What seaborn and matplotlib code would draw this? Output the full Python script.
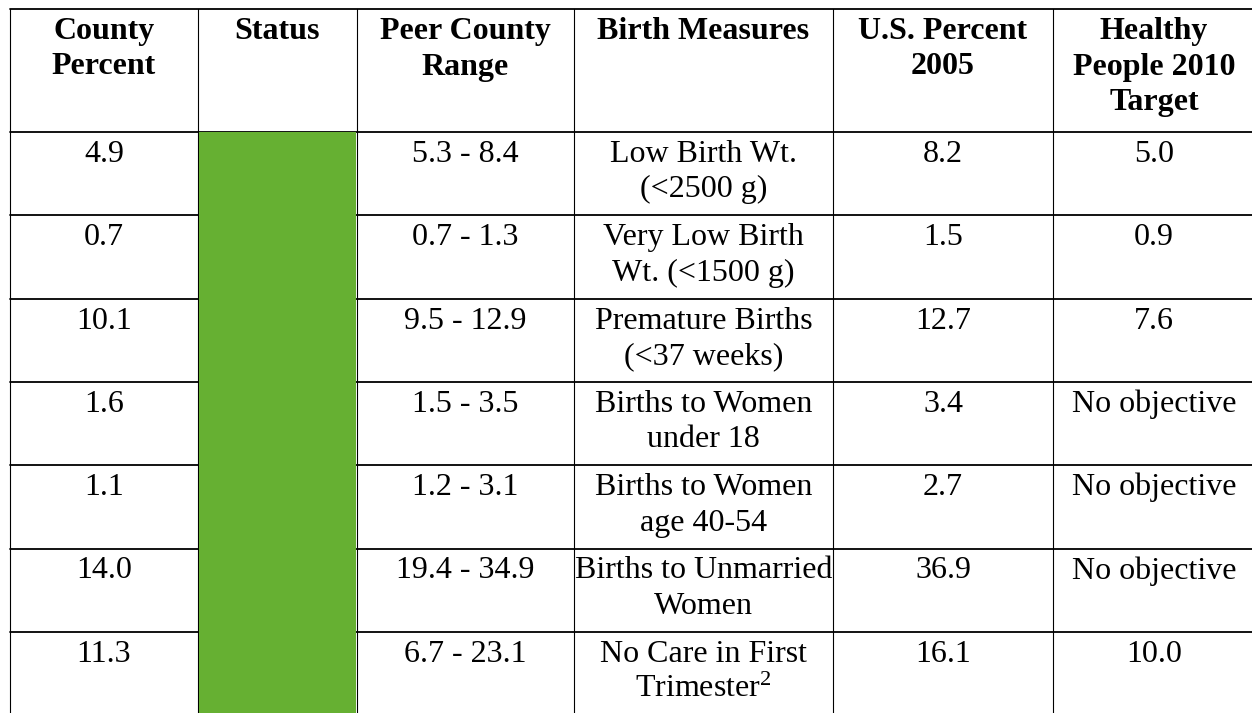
import numpy as np
import pandas as pd
import matplotlib
matplotlib.use("Agg")
import matplotlib.pyplot as plt
from matplotlib.colors import ListedColormap
import seaborn as sns

# ---- table content ----
headers = [
    ["County", "Percent"],
    ["Status"],
    ["Peer County", "Range"],
    ["Birth Measures"],
    ["U.S. Percent", "2005"],
    ["Healthy", "People 2010", "Target"],
]
county_pct = ["4.9", "0.7", "10.1", "1.6", "1.1", "14.0", "11.3"]
status = ["better", "better", "better", "better", "better", "better", "better"]
peer_range = ["5.3 - 8.4", "0.7 - 1.3", "9.5 - 12.9", "1.5 - 3.5",
              "1.2 - 3.1", "19.4 - 34.9", "6.7 - 23.1"]
measures = [
    ["Low Birth Wt.", "(<2500 g)"],
    ["Very Low Birth", "Wt. (<1500 g)"],
    ["Premature Births", "(<37 weeks)"],
    ["Births to Women", "under 18"],
    ["Births to Women", "age 40-54"],
    ["Births to Unmarried", "Women"],
    ["No Care in First", r"Trimester$^{2}$"],
]
us_pct = ["8.2", "1.5", "12.7", "3.4", "2.7", "36.9", "16.1"]
hp2010 = ["5.0", "0.9", "7.6", "No objective", "No objective",
          "No objective", "10.0"]

# ---- layout (pixels) ----
W, H = 1252, 713
col_edges = [10, 198, 357, 574, 833, 1053, 1255]
top = 9
head_bottom = 132
row_h = 83.3
n_rows = len(county_pct)
green = "#66b032"

sns.set_theme(style="white")
plt.rcParams["font.family"] = ["Liberation Serif", "DejaVu Serif"]
plt.rcParams["mathtext.fontset"] = "custom"
plt.rcParams["mathtext.rm"] = "Liberation Serif"
plt.rcParams["mathtext.it"] = "Liberation Serif"
plt.rcParams["mathtext.default"] = "rm"

fig = plt.figure(figsize=(W / 100, H / 100), dpi=100)
ax = fig.add_axes([0, 0, 1, 1])
ax.set_xlim(0, W)
ax.set_ylim(H, 0)
ax.axis("off")

# horizontal rules
row_lines = [head_bottom + i * row_h for i in range(n_rows)]
for y in [top] + row_lines:
    ax.plot([col_edges[0], W], [y, y], color="black", lw=1.3, zorder=1)
# vertical rules
for x in col_edges:
    ax.plot([x, x], [top, H], color="black", lw=0.8, zorder=3)

# status column as a seaborn heatmap
codes = {"better": 0}
status_df = pd.DataFrame({"Status": [codes[s] for s in status]})
hx0 = (col_edges[1] + 0.6) / W
hx1 = (col_edges[2] - 0.6) / W
hy_top = head_bottom
hy_bot = head_bottom + n_rows * row_h
hax = fig.add_axes([hx0, 1 - hy_bot / H, hx1 - hx0, (hy_bot - hy_top) / H])
sns.heatmap(status_df, ax=hax, cmap=ListedColormap([green]), cbar=False,
            xticklabels=False, yticklabels=False, linewidths=0)
hax.set_xlabel("")
hax.set_ylabel("")

# header text
centers = [(a + b) / 2 for a, b in zip(col_edges[:-1], col_edges[1:])]
line_gap = 35.5
for cx, lines in zip(centers, headers):
    for j, t in enumerate(lines):
        ax.text(cx, top + 30 + j * line_gap, t, ha="center", va="baseline",
                fontsize=23, fontweight="bold", color="black")

# body text
body_cols = [(0, county_pct), (2, peer_range), (3, measures),
             (4, us_pct), (5, hp2010)]
for ci, vals in body_cols:
    for ri, v in enumerate(vals):
        lines = v if isinstance(v, list) else [v]
        y0 = row_lines[ri] + 30
        for j, t in enumerate(lines):
            ax.text(centers[ci], y0 + j * line_gap, t, ha="center",
                    va="baseline", fontsize=23, color="black")

fig.savefig("out.png", dpi=100, facecolor="white")
